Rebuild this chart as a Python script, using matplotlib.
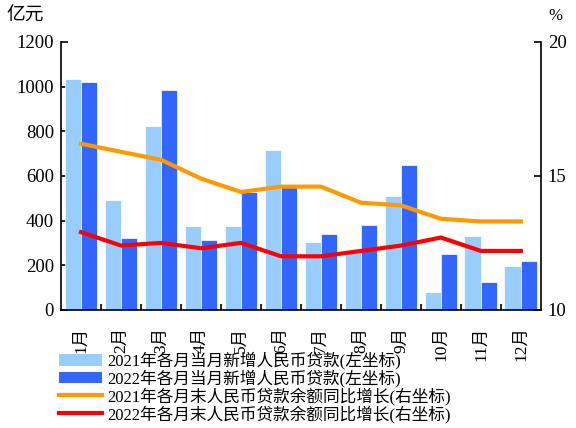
import matplotlib
matplotlib.use("Agg")
import matplotlib.pyplot as plt
import numpy as np
from matplotlib.patches import Patch
from matplotlib.lines import Line2D

plt.rcParams['font.family'] = ['Liberation Serif', 'Noto Sans CJK SC']

months = ["1月", "2月", "3月", "4月", "5月", "6月", "7月", "8月", "9月", "10月", "11月", "12月"]
loans_2021 = [1036, 493, 825, 374, 377, 716, 306, 258, 508, 81, 330, 197]
loans_2022 = [1021, 321, 985, 311, 527, 550, 341, 379, 647, 252, 127, 217]
growth_2021 = [16.2, 15.9, 15.6, 14.9, 14.4, 14.6, 14.6, 14.0, 13.9, 13.4, 13.3, 13.3]
growth_2022 = [12.9, 12.4, 12.5, 12.3, 12.5, 12.0, 12.0, 12.2, 12.4, 12.7, 12.2, 12.2]
labels = ["2021年各月当月新增人民币贷款(左坐标)", "2022年各月当月新增人民币贷款(左坐标)",
          "2021年各月末人民币贷款余额同比增长(右坐标)", "2022年各月末人民币贷款余额同比增长(右坐标)"]

c_light = "#99CCFF"
c_dark = "#3366FF"
c_orange = "#FF9900"
c_red = "#FF0000"

fig = plt.figure(figsize=(5.76, 4.28), dpi=100)
ax = fig.add_axes([0.106, 0.276, 0.833, 0.626])
x = np.arange(len(months))
w = 0.41
ax.bar(x - w / 2, loans_2021, w, color=c_light, edgecolor="white", linewidth=0.5, zorder=2)
ax.bar(x + w / 2, loans_2022, w, color=c_dark, edgecolor="white", linewidth=0.5, zorder=2)
ax.set_xlim(-0.5, len(months) - 0.5)
ax.set_ylim(0, 1200)
ax.set_yticks(range(0, 1201, 200))
ax.tick_params(axis='y', labelsize=13.5, direction='in', length=5, width=1.2, pad=5)
ax.set_xticks(x)
ax.set_xticklabels(months, rotation=90, fontsize=12.5)
ax.tick_params(axis='x', length=0, pad=12)
ax.set_xticks(np.arange(0.5, len(months) - 0.5, 1), minor=True)
ax.tick_params(axis='x', which='minor', direction='in', length=4, width=1.2)
for s in ['top', 'right']:
    ax.spines[s].set_visible(False)
for s in ['left', 'bottom']:
    ax.spines[s].set_linewidth(1.2)

ax2 = ax.twinx()
ax2.plot(x, growth_2021, color=c_orange, linewidth=3, zorder=3)
ax2.plot(x, growth_2022, color=c_red, linewidth=3, zorder=3)
ax2.set_ylim(10, 20)
ax2.set_yticks([10, 15, 20])
ax2.tick_params(axis='y', labelsize=13.5, direction='in', length=5, width=1.2, pad=5)
for s in ['top', 'left', 'bottom']:
    ax2.spines[s].set_visible(False)
ax2.spines['right'].set_linewidth(1.2)

fig.text(0.012, 0.962, "亿元", fontsize=13.5, ha='left', va='center')
fig.text(0.965, 0.962, "%", fontsize=12, ha='center', va='center')

handles = [Patch(facecolor=c_light), Patch(facecolor=c_dark),
           Line2D([0], [0], color=c_orange, linewidth=3),
           Line2D([0], [0], color=c_red, linewidth=3)]
fig.legend(handles, labels, loc='lower left', bbox_to_anchor=(0.085, -0.012), frameon=False,
           fontsize=12, handlelength=2.6, handletextpad=0.3, labelspacing=0.0,
           borderaxespad=0.2)

fig.savefig("out.png", dpi=100)
